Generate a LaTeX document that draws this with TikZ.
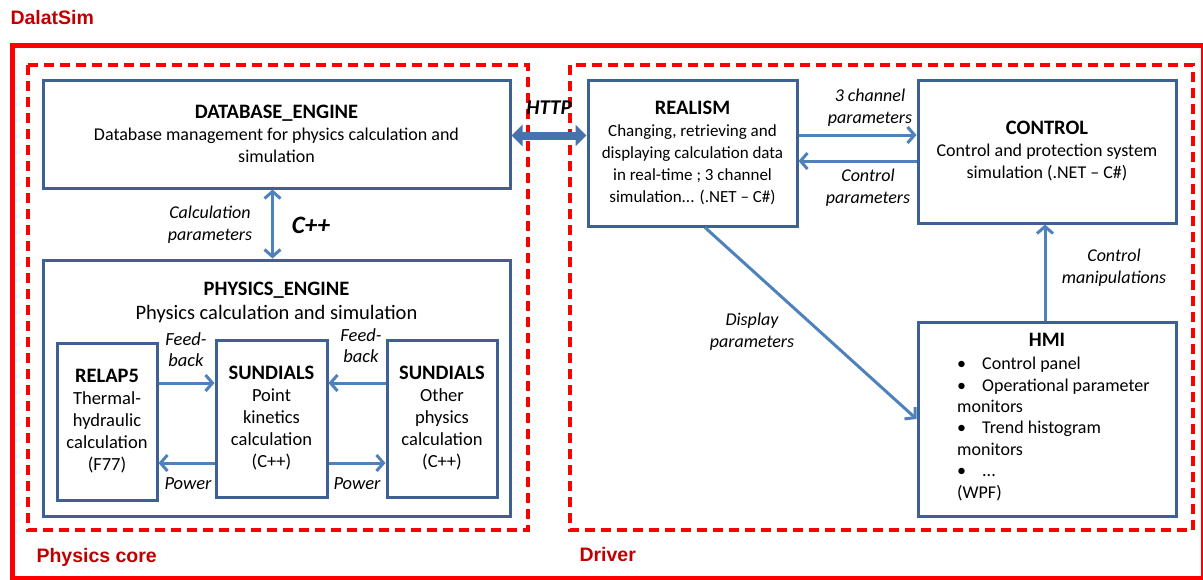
\documentclass[tikz,border=0pt]{standalone}
\usepackage{fontspec}
\setmainfont{Carlito}
\newfontfamily\arialfont{Liberation Sans}
\usetikzlibrary{arrows.meta, positioning}
\definecolor{dsred}{HTML}{FF0000}
\definecolor{darkred}{HTML}{C00000}
\definecolor{boxblue}{HTML}{3E6195}
\definecolor{arrowblue}{HTML}{4F81BD}
\definecolor{httpblue}{HTML}{4673AC}
\newcommand{\boxtitle}[1]{{\fontsize{20.5}{22}\selectfont\bfseries #1}}
\tikzset{
  box/.style={draw=boxblue, line width=3pt, inner sep=0pt, align=center,
    font=\fontsize{18}{22}\selectfont},
  innerbox/.style={box, minimum height=157pt, font=\fontsize{18.5}{22}\selectfont},
  group/.style={draw=dsred, line width=3.5pt, dash pattern=on 10pt off 6pt},
  grouplabel/.style={text=darkred, anchor=west,
    font=\arialfont\bfseries\fontsize{19.5}{22}\selectfont},
  flow/.style={draw=arrowblue, line width=3pt,
    -{Straight Barb[length=7pt,width=16pt]}},
  flowlabel/.style={align=center, font=\itshape\fontsize{18}{22}\selectfont},
  powerlabel/.style={flowlabel, font=\itshape\fontsize{18.5}{21}\selectfont},
  http/.style={draw=httpblue, line width=8pt,
    {Triangle[length=11pt,width=21pt]}-{Triangle[length=11pt,width=21pt]}}
}
\begin{document}
\begin{tikzpicture}[x=1pt, y=-1pt]
  \useasboundingbox (0,0) rectangle (1203,579);
  % frames
  \draw[dsred, line width=5pt] (12,45.5) rectangle (1203,578);
  \draw[group] (28,65) rectangle (528,530);
  \draw[group] (570,65) rectangle (1193,530);
  \node[grouplabel] (dalatsim) at (7,18) {DalatSim};
  \node[grouplabel] (corelabel) at (33,557) {Physics core};
  \node[grouplabel] (driverlabel) at (576,555) {Driver};

  % physics core
  \node[box, minimum width=467pt, minimum height=108pt] (db) at (276.5,134)
    {\boxtitle{DATABASE\_ENGINE}\\Database management for physics calculation and\\simulation};
  \node[box, minimum width=467pt, minimum height=256pt] (phys) at (276.5,388) {};
  \node[align=center, font=\fontsize{20.5}{24}\selectfont] (phystitle) at (276.5,302)
    {\boxtitle{PHYSICS\_ENGINE}\\Physics calculation and simulation};
  \node[innerbox, minimum width=100pt] (relap) at (107,421.5)
    {\boxtitle{RELAP5}\\Thermal-\\hydraulic\\calculation\\(F77)};
  \node[innerbox, minimum width=111pt] (sunpk) at (271.5,418.5)
    {\boxtitle{SUNDIALS}\\Point\\kinetics\\calculation\\(C++)};
  \node[innerbox, minimum width=110pt] (sunoth) at (442,418.5)
    {\boxtitle{SUNDIALS}\\Other\\physics\\calculation\\(C++)};

  % driver
  \node[box, minimum width=209pt, minimum height=146pt,
    font=\fontsize{17}{22}\selectfont] (realism) at (692.5,153)
    {\boxtitle{REALISM}\\Changing, retrieving and\\displaying calculation data\\in real-time ; 3 channel\\simulation... (.NET -- C\#)};
  \node[box, minimum width=258pt, minimum height=143pt] (control) at (1047,151.5)
    {\boxtitle{CONTROL}\\Control and protection system\\simulation (.NET -- C\#)};
  \node[box, minimum width=258pt, minimum height=194pt] (hmi) at (1047,419) {};
  \node[font=\bfseries\fontsize{20.5}{22}\selectfont] (hmititle) at (1047,340) {HMI};
  \node[anchor=north west, align=left, inner sep=0pt,
    font=\fontsize{18}{21.4}\selectfont] (hmitext) at (957,357)
    {\makebox[25pt][l]{\textbullet}Control panel\\
     \makebox[25pt][l]{\textbullet}Operational parameter\\
     monitors\\
     \makebox[25pt][l]{\textbullet}Trend histogram\\
     monitors\\
     \makebox[25pt][l]{\textbullet}...\\
     (WPF)};

  % connectors
  \coordinate (httpL) at ([yshift=-1.5pt]db.east);
  \draw[http] (httpL) -- (httpL -| realism.west);
  \node[font=\bfseries\itshape\fontsize{21}{24}\selectfont] (httplabel) at (549,108) {HTTP};

  \draw[flow, {Straight Barb[length=7pt,width=16pt]}-{Straight Barb[length=7pt,width=16pt]}]
    ([xshift=-4pt]db.south) -- ([xshift=-4pt]phys.north);
  \node[flowlabel] (calclabel) at (210,225) {Calculation\\parameters};
  \node[font=\bfseries\itshape\fontsize{25}{28}\selectfont] (cpplabel) at (311,225) {C++};

  \coordinate (fb1) at ([yshift=38.5pt]relap.east);
  \draw[flow] (fb1) -- (fb1 -| sunpk.west);
  \coordinate (pw1) at ([yshift=-44.5pt]sunpk.west);
  \draw[flow] (pw1) -- (pw1 -| relap.east);
  \coordinate (fb2) at ([yshift=35.5pt]sunoth.west);
  \draw[flow] (fb2) -- (fb2 -| sunpk.east);
  \coordinate (pw2) at ([yshift=-44.5pt]sunpk.east);
  \draw[flow] (pw2) -- (pw2 -| sunoth.west);
  \node[powerlabel] (fblabel1) at (186,350) {Feed-\\back};
  \node[powerlabel] (fblabel2) at (361,346) {Feed-\\back};
  \node[powerlabel] (pwlabel1) at (188,484) {Power};
  \node[powerlabel] (pwlabel2) at (357,484) {Power};

  \coordinate (chout) at ([yshift=18pt]realism.east);
  \draw[flow] (chout) -- (chout -| control.west);
  \node[flowlabel] (chlabel) at (870,108) {3 channel\\parameters};
  \coordinate (ctrlout) at ([yshift=-9.5pt]control.west);
  \draw[flow] (ctrlout) -- (ctrlout -| realism.east);
  \node[flowlabel] (ctrllabel) at (868,188) {Control\\parameters};

  \draw[flow] ([xshift=12.5pt]realism.south) -- (hmi.west);
  \node[flowlabel] (displabel) at (752,332) {Display\\parameters};
  \draw[flow] ([xshift=-2pt]hmi.north) -- ([xshift=-2pt]control.south);
  \node[flowlabel] (manlabel) at (1114,268) {Control\\manipulations};
\end{tikzpicture}
\end{document}
